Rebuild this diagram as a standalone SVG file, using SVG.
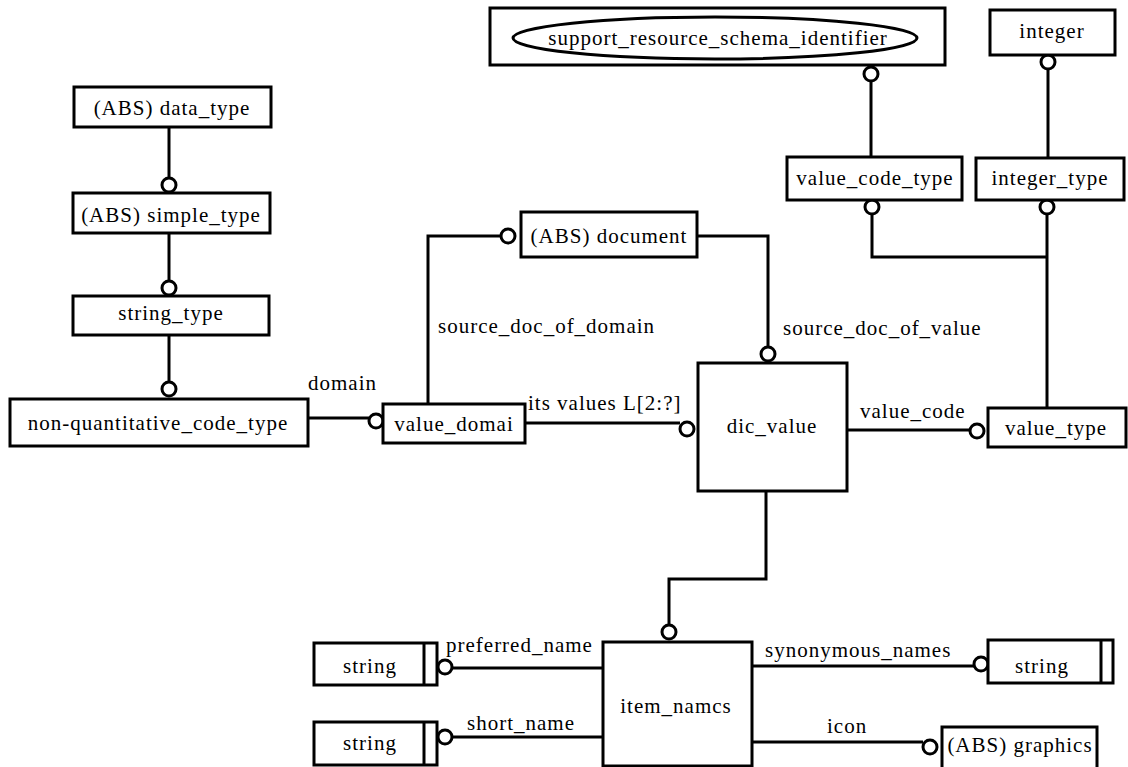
<svg xmlns="http://www.w3.org/2000/svg" width="1128" height="767" viewBox="0 0 1128 767">
  <style>
    .box { fill: #fff; stroke: #000; stroke-width: 3; }
    .bar { stroke: #000; stroke-width: 3; }
    .ln { fill: none; stroke: #000; stroke-width: 3; }
    .ring { fill: #fff; stroke: #000; stroke-width: 3; }
    text { font-family: "Liberation Serif", "Times New Roman", serif; font-size: 21px; letter-spacing: 1px; fill: #000; }
    .c { text-anchor: middle; }
  </style>
  <rect width="1128" height="767" fill="#fff"/>

  <!-- relationship lines -->
  <g id="connectors">
    <path class="ln" d="M169,127 V177"/>
    <path class="ln" d="M169,233 V280"/>
    <path class="ln" d="M169,335 V381"/>
    <path class="ln" d="M308,418 H369"/>
    <path class="ln" d="M428,404 V236 H501"/>
    <path class="ln" d="M697,236 H768 V347"/>
    <path class="ln" d="M525,423 H680"/>
    <path class="ln" d="M847,430 H970"/>
    <path class="ln" d="M871,82 V157"/>
    <path class="ln" d="M1048,69 V158"/>
    <path class="ln" d="M872,214 V257 H1047"/>
    <path class="ln" d="M1047,214 V408"/>
    <path class="ln" d="M766,491 V579 H669 V625"/>
    <path class="ln" d="M603,668 H452"/>
    <path class="ln" d="M603,737 H452"/>
    <path class="ln" d="M752,666 H974"/>
    <path class="ln" d="M752,742 H923"/>

    <circle class="ring" cx="169" cy="185" r="7"/>
    <circle class="ring" cx="169" cy="288" r="7"/>
    <circle class="ring" cx="169" cy="389" r="7"/>
    <circle class="ring" cx="376" cy="421" r="7"/>
    <circle class="ring" cx="508" cy="236" r="7"/>
    <circle class="ring" cx="768" cy="354" r="7"/>
    <circle class="ring" cx="687" cy="429" r="7"/>
    <circle class="ring" cx="977" cy="431" r="7"/>
    <circle class="ring" cx="871" cy="74" r="7"/>
    <circle class="ring" cx="1048" cy="62" r="7"/>
    <circle class="ring" cx="872" cy="207" r="7"/>
    <circle class="ring" cx="1047" cy="207" r="7"/>
    <circle class="ring" cx="669" cy="632" r="7"/>
    <circle class="ring" cx="445" cy="667" r="7"/>
    <circle class="ring" cx="445" cy="737" r="7"/>
    <circle class="ring" cx="981" cy="664" r="7"/>
    <circle class="ring" cx="930" cy="747" r="7"/>

    <text x="308" y="390">domain</text>
    <text x="438" y="333">source_doc_of_domain</text>
    <text x="528" y="410">its values L[2:?]</text>
    <text x="783" y="335">source_doc_of_value</text>
    <text x="860" y="418">value_code</text>
    <text x="446" y="652">preferred_name</text>
    <text x="467" y="730">short_name</text>
    <text x="765" y="657">synonymous_names</text>
    <text x="827" y="733">icon</text>
  </g>

  <g id="data_type">
    <rect class="box" x="74" y="87" width="197" height="40"/>
    <text class="c" x="172" y="115">(ABS) data_type</text>
  </g>
  <g id="simple_type">
    <rect class="box" x="73" y="193" width="197" height="40"/>
    <text class="c" x="171" y="222">(ABS) simple_type</text>
  </g>
  <g id="string_type">
    <rect class="box" x="73" y="296" width="196" height="39"/>
    <text class="c" x="171" y="320">string_type</text>
  </g>
  <g id="non_quantitative_code_type">
    <rect class="box" x="10" y="399" width="298" height="47"/>
    <text class="c" x="158" y="430">non-quantitative_code_type</text>
  </g>
  <g id="value_domain">
    <rect class="box" x="383" y="404" width="142" height="39"/>
    <text class="c" x="454" y="431">value_domai</text>
  </g>
  <g id="document">
    <rect class="box" x="521" y="212" width="176" height="45"/>
    <text class="c" x="609" y="243">(ABS) document</text>
  </g>
  <g id="support_resource_schema_identifier">
    <rect class="box" x="490" y="8" width="455" height="57"/>
    <ellipse class="box" cx="715" cy="38" rx="202" ry="21"/>
    <text class="c" x="718" y="45">support_resource_schema_identifier</text>
  </g>
  <g id="integer">
    <rect class="box" x="990" y="10" width="125" height="45"/>
    <text class="c" x="1052" y="38">integer</text>
  </g>
  <g id="value_code_type">
    <rect class="box" x="787" y="157" width="175" height="43"/>
    <text class="c" x="875" y="185">value_code_type</text>
  </g>
  <g id="integer_type">
    <rect class="box" x="976" y="158" width="148" height="42"/>
    <text class="c" x="1050" y="185">integer_type</text>
  </g>
  <g id="dic_value">
    <rect class="box" x="698" y="363" width="149" height="128"/>
    <text class="c" x="772" y="433">dic_value</text>
  </g>
  <g id="value_type">
    <rect class="box" x="988" y="408" width="138" height="39"/>
    <text class="c" x="1056" y="435">value_type</text>
  </g>
  <g id="item_names">
    <rect class="box" x="603" y="642" width="149" height="124"/>
    <text class="c" x="676" y="713">item_namcs</text>
  </g>
  <g id="string_preferred">
    <rect class="box" x="314" y="643" width="123" height="42"/>
    <line class="bar" x1="424" y1="643" x2="424" y2="685"/>
    <text class="c" x="370" y="673">string</text>
  </g>
  <g id="string_short">
    <rect class="box" x="314" y="722" width="123" height="43"/>
    <line class="bar" x1="424" y1="722" x2="424" y2="765"/>
    <text class="c" x="370" y="750">string</text>
  </g>
  <g id="string_synonymous">
    <rect class="box" x="988" y="640" width="125" height="43"/>
    <line class="bar" x1="1101" y1="640" x2="1101" y2="683"/>
    <text class="c" x="1042" y="673">string</text>
  </g>
  <g id="graphics">
    <rect class="box" x="942" y="727" width="155" height="42"/>
    <text class="c" x="1020" y="752">(ABS) graphics</text>
  </g>
</svg>
